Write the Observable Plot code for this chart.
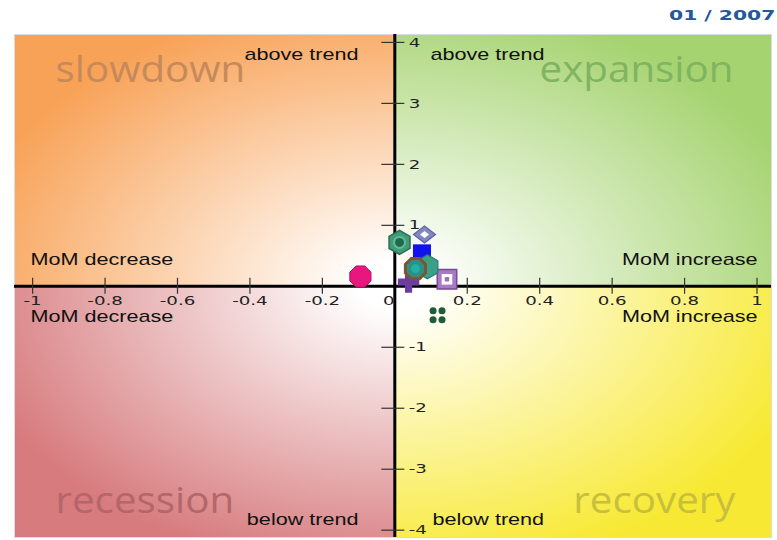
<!DOCTYPE html>
<html><head><meta charset="utf-8">
<script src="https://cdn.jsdelivr.net/npm/d3@7"></script>
<script src="https://cdn.jsdelivr.net/npm/@observablehq/plot@0.6"></script>
<style>
html,body{margin:0;padding:0;background:#fff;}
#wrap{position:relative;width:777px;height:540px;overflow:hidden;}
#title{position:absolute;right:2px;top:7px;font:bold 14px "DejaVu Sans",sans-serif;color:#22599a;white-space:nowrap;transform:scaleX(1.45);transform-origin:100% 50%;}
svg{display:block}
</style></head><body>
<div id="wrap"><div id="title">01 / 2007</div></div>
<script>
// ---- data ----
const titleText = "01 / 2007";
const xDomain = [-1.05, 1.04];
const yDomain = [-4.12, 4.13];
const seriesNames = ["S1", "S2", "S3", "S4", "S5", "S6", "S7", "S8", "S9"];
const momChange = [-0.095, 0.013, 0.082, 0.075, 0.09, 0.057, 0.144, 0.038, 0.118];
const trendDeviation = [0.16, 0.72, 0.85, 0.54, 0.32, 0.29, 0.115, 0.07, -0.475];
const xTickValues = [-1, -0.8, -0.6, -0.4, -0.2, 0.2, 0.4, 0.6, 0.8, 1];
const xTickLabels = ["-1", "-0.8", "-0.6", "-0.4", "-0.2", "0.2", "0.4", "0.6", "0.8", "1"];
const yTickValues = [4, 3, 2, 1, -1, -2, -3, -4];
const yTickLabels = ["4", "3", "2", "1", "-1", "-2", "-3", "-4"];
const quadrantNames = ["slowdown", "expansion", "recession", "recovery"];
const trendLabels = ["above trend", "below trend"];
const momLabels = ["MoM decrease", "MoM increase"];

// ---- derived tables ----
const points = seriesNames.map((name, i) => ({name, x: momChange[i], y: trendDeviation[i]}));
const pt = name => points.filter(d => d.name === name);
const xTicks = xTickValues.map((v, i) => ({v, label: xTickLabels[i]}));
const yTicks = yTickValues.map((v, i) => ({v, label: yTickLabels[i]}));
const quadrants = [
  {name: quadrantNames[0], x1: xDomain[0], x2: 0, y1: 0, y2: yDomain[1]},
  {name: quadrantNames[1], x1: 0, x2: xDomain[1], y1: 0, y2: yDomain[1]},
  {name: quadrantNames[2], x1: xDomain[0], x2: 0, y1: yDomain[0], y2: 0},
  {name: quadrantNames[3], x1: 0, x2: xDomain[1], y1: yDomain[0], y2: 0}
];

// ---- custom symbols ----
function polygon(n, rot, k) {
  return {draw(ctx, size) {
    const r = Math.sqrt(size / Math.PI) * k;
    for (let j = 0; j < n; j++) {
      const a = rot + j * 2 * Math.PI / n;
      const px = r * Math.cos(a), py = r * Math.sin(a);
      j ? ctx.lineTo(px, py) : ctx.moveTo(px, py);
    }
    ctx.closePath();
  }};
}
const octagon = polygon(8, Math.PI / 8, 1.04);
const hexagon = polygon(6, Math.PI / 6, 1.05);
const rhombus = {draw(ctx, size) {
  const r = Math.sqrt(size / Math.PI);
  ctx.moveTo(-r, 0); ctx.lineTo(0, -r * 0.78); ctx.lineTo(r, 0); ctx.lineTo(0, r * 0.78); ctx.closePath();
}};
const clover = {draw(ctx, size) {
  const r = Math.sqrt(size / Math.PI);
  const o = r * 0.56, c = r * 0.44;
  for (const [ox, oy] of [[-o, -o], [o, -o], [-o, o], [o, o]]) {
    ctx.moveTo(ox + c, oy);
    ctx.arc(ox, oy, c, 0, 2 * Math.PI);
  }
}};

const quadrantText = {
  slowdown: {frameAnchor: "top-left", textAnchor: "start", dx: 41, dy: 22, fill: "#c68a5a"},
  expansion: {frameAnchor: "top-right", textAnchor: "end", dx: -38, dy: 22, fill: "#80b460"},
  recession: {frameAnchor: "bottom-left", textAnchor: "start", dx: 41, dy: -25, fill: "#b46668"},
  recovery: {frameAnchor: "bottom-right", textAnchor: "end", dx: -36, dy: -25, fill: "#c8bf3c"}
};
const smallFont = {fontFamily: "Liberation Sans, Arial, sans-serif", fontSize: 16, fill: "#111"};
const tickFont = {fontFamily: "DejaVu Sans, sans-serif", fontSize: 13, fill: "#222"};
const P = {x: "x", y: "y"};

const svg = Plot.plot({
  width: 777, height: 540,
  marginLeft: 14, marginRight: 6, marginTop: 34, marginBottom: 3,
  x: {domain: xDomain, axis: null},
  y: {domain: yDomain, axis: null},
  style: {background: "transparent", overflow: "visible"},
  marks: [
    ...quadrants.map(q => Plot.rect([q], {x1: "x1", x2: "x2", y1: "y1", y2: "y2", fill: `url(#grad-${q.name})`})),
    Plot.frame({stroke: "#dcdcdc"}),
    ...quadrantNames.map(n => Plot.text([n], {text: d => d, fontFamily: "Open Sans, sans-serif", fontSize: 36, ...quadrantText[n]})),
    Plot.text([trendLabels[0]], {text: d => d, frameAnchor: "top", textAnchor: "end", dx: -34.5, dy: 14, ...smallFont}),
    Plot.text([trendLabels[0]], {text: d => d, frameAnchor: "top", textAnchor: "start", dx: 37.5, dy: 14, ...smallFont}),
    Plot.text([trendLabels[1]], {text: d => d, frameAnchor: "bottom", textAnchor: "end", dx: -34.5, dy: -13, ...smallFont}),
    Plot.text([trendLabels[1]], {text: d => d, frameAnchor: "bottom", textAnchor: "start", dx: 39.5, dy: -13, ...smallFont}),
    Plot.text([momLabels[0]], {text: d => d, frameAnchor: "left", textAnchor: "start", dx: 16, dy: -26.5, ...smallFont}),
    Plot.text([momLabels[0]], {text: d => d, frameAnchor: "left", textAnchor: "start", dx: 16, dy: 30.5, ...smallFont}),
    Plot.text([momLabels[1]], {text: d => d, frameAnchor: "right", textAnchor: "end", dx: -14, dy: -26.5, ...smallFont}),
    Plot.text([momLabels[1]], {text: d => d, frameAnchor: "right", textAnchor: "end", dx: -14, dy: 30.5, ...smallFont}),
    // axes
    Plot.ruleX([0], {stroke: "#000", strokeWidth: 3}),
    Plot.ruleY([0], {stroke: "#000", strokeWidth: 3}),
    Plot.ruleX(xTicks, {x: "v", y1: d => 0, y2: d => 0, insetTop: -8, insetBottom: -8, stroke: "#333", strokeWidth: 1.2}),
    Plot.ruleY(yTicks, {y: "v", x1: d => 0, x2: d => 0, insetLeft: -13, insetRight: -10, stroke: "#333", strokeWidth: 1.2}),
    Plot.text(xTicks, {x: "v", y: d => 0, text: "label", dy: 15, ...tickFont}),
    Plot.text(["0"], {x: d => 0, y: d => 0, text: d => d, dx: -6, dy: 15, ...tickFont}),
    Plot.text(yTicks, {x: d => 0, y: "v", text: "label", textAnchor: "start", dx: 14, ...tickFont}),
    // markers
    Plot.dot(pt("S8"), {...P, symbol: "cross", r: 9, fill: "#6b3ca2"}),
    Plot.dot(pt("S7"), {...P, symbol: "square", r: 11, fill: "#a97ac2", stroke: "#7a4a98", strokeWidth: 1.5}),
    Plot.dot(pt("S7"), {...P, symbol: "square", r: 6, fill: "#fff"}),
    Plot.dot(pt("S7"), {...P, symbol: "square", r: 2.5, fill: "#a070b8"}),
    Plot.dot(pt("S1"), {...P, symbol: octagon, r: 11, fill: "#e8177f", stroke: "#b5105f", strokeWidth: 1}),
    Plot.dot(pt("S2"), {...P, symbol: hexagon, r: 11.5, fill: "#3f9c78", stroke: "#2c6b50", strokeWidth: 1.5}),
    Plot.dot(pt("S2"), {...P, r: 6.5, fill: "#66b899"}),
    Plot.dot(pt("S2"), {...P, r: 4.5, fill: "#1e6b4c"}),
    Plot.dot(pt("S3"), {...P, symbol: rhombus, r: 11, fill: "#8287c2", stroke: "#5c62a0", strokeWidth: 1.2}),
    Plot.dot(pt("S3"), {...P, symbol: rhombus, r: 4.5, fill: "#fff"}),
    Plot.dot(pt("S4"), {...P, symbol: "square", r: 10.2, fill: "#1212ee"}),
    Plot.dot(pt("S5"), {...P, symbol: hexagon, r: 11.5, fill: "#3aa08c", stroke: "#2c7a6a", strokeWidth: 1.2}),
    Plot.dot(pt("S6"), {...P, symbol: octagon, r: 10.5, fill: "#2f8f84", stroke: "#7a5530", strokeWidth: 3}),
    Plot.dot(pt("S6"), {...P, r: 4.5, fill: "#22b0a2"}),
    Plot.dot(pt("S9"), {...P, symbol: clover, r: 8, fill: "#1f5c3c"})
  ]
});

document.getElementById("wrap").appendChild(svg);

// gradients for the quadrant backgrounds
const gradSpec = {
  slowdown: {cx: 1, cy: 1, color: "#f8a257"},
  expansion: {cx: 0, cy: 1, color: "#a5d370"},
  recession: {cx: 1, cy: 0, color: "#d77b7e"},
  recovery: {cx: 0, cy: 0, color: "#f7e933"}
};
const defs = d3.select(svg).insert("defs", ":first-child");
for (const n of quadrantNames) {
  const g = defs.append("radialGradient").attr("id", `grad-${n}`)
    .attr("cx", gradSpec[n].cx).attr("cy", gradSpec[n].cy).attr("r", 1.15)
    .attr("fx", gradSpec[n].cx).attr("fy", gradSpec[n].cy);
  g.append("stop").attr("offset", 0).attr("stop-color", "#ffffff");
  g.append("stop").attr("offset", 0.08).attr("stop-color", "#ffffff");
  g.append("stop").attr("offset", 1).attr("stop-color", gradSpec[n].color);
}

// horizontally stretched lettering as in the reference
const stretchBySize = {36: 1.12, 16: 1.35, 13: 1.4};
d3.select(svg).selectAll("text").each(function() {
  const fs = parseFloat(getComputedStyle(this).fontSize);
  const s = stretchBySize[fs];
  if (s) {
    const t = this.getAttribute("transform") || "";
    this.setAttribute("transform", `${t} scale(${s},1)`);
  }
});
document.getElementById("title").textContent = titleText;
</script>
</body></html>
